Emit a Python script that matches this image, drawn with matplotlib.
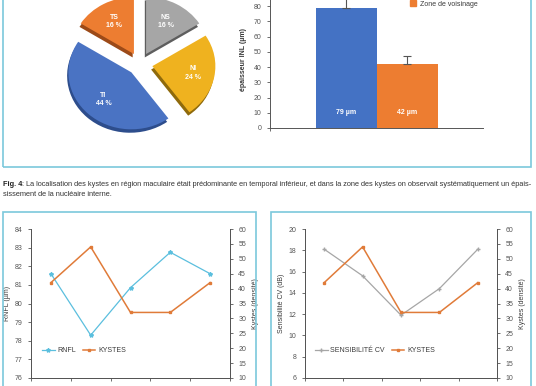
import numpy as np
import matplotlib.pyplot as plt
from matplotlib.patches import Rectangle, Patch

plt.rcParams['font.family'] = ['Liberation Sans', 'DejaVu Sans']
plt.rcParams['text.color'] = '#3a3a3a'
plt.rcParams['axes.labelcolor'] = '#3a3a3a'
plt.rcParams['xtick.color'] = '#555555'
plt.rcParams['ytick.color'] = '#555555'

W, H = 536, 386

# camembert : localisation des kystes
pie_labels = ['TS', 'TI', 'NI', 'NS']
pie_pct = [16, 44, 24, 16]
pie_colors = ['#ed7d31', '#4a73c3', '#efb21f', '#a6a6a6']
pie_dark = ['#9c4a18', '#2d4d8c', '#8f6a0c', '#5e5e5e']

# histogramme : epaisseur INL
bar_labels = ['Zone des kystes', 'Zone de voisinage']
bar_vals = [79, 42]
bar_err = [8, 5]
bar_colors = ['#4472c4', '#ed7d31']

# courbes par secteur
secteurs = [1, 2, 3, 4, 5]
rnfl = [81.6, 78.3, 80.85, 82.75, 81.6]
kystes = [42, 54, 32, 32, 42]
sens_cv = [18.1, 15.6, 11.9, 14.4, 18.1]

caption_bold = 'Fig. 4'
caption_1 = (': La localisation des kystes en région maculaire était prédominante en temporal inférieur, '
             'et dans la zone des kystes on observait systématiquement un épais-')
caption_2 = 'sissement de la nucléaire interne.'

frame_col = '#7cc8dc'
spine_col = '#555555'


def box(l, t, r, b):
    # pixels (origine en haut a gauche) -> coordonnees figure
    return [l / W, 1 - b / H, (r - l) / W, (b - t) / H]


def frame(fig, l, t, r, b):
    fig.patches.append(Rectangle((l / W, 1 - b / H), (r - l) / W, (b - t) / H,
                                 transform=fig.transFigure, fill=False,
                                 ec=frame_col, lw=1.2))


fig = plt.figure(figsize=(W / 100, H / 100), dpi=100)
fig.patch.set_facecolor('white')

frame(fig, 3, -10, 531, 167)
frame(fig, 3, 212, 256, 400)
frame(fig, 271, 212, 531, 400)

# ---- camembert
axp = fig.add_axes(box(45.5, -21.5, 234.5, 149.5))
explode = [0.2] * 4
axp.pie(pie_pct, colors=pie_dark, startangle=90, explode=explode, center=(-0.02, -0.06))
wedges, texts = axp.pie(pie_pct, colors=pie_colors, startangle=90, explode=explode,
                        labels=['%s\n%d %%' % (n, p) for n, p in zip(pie_labels, pie_pct)],
                        labeldistance=0.65,
                        textprops=dict(color='white', fontsize=5, fontweight='bold'))
for t in texts:
    t.set_ha('center')
    t.set_va('center')
    t.set_linespacing(1.3)
axp.set_aspect('auto')
axp.set_xlim(-1.5, 1.5)
axp.set_ylim(-1.5, 1.5)

# ---- histogramme
axb = fig.add_axes(box(270, -9.25, 483, 128))
xb = np.arange(len(bar_vals))
bars = axb.bar(xb, bar_vals, width=1.0, color=bar_colors,
               yerr=[[0] * len(bar_err), bar_err], capsize=3,
               error_kw=dict(ecolor='#555555', elinewidth=0.8, capthick=0.8))
for i, v in enumerate(bar_vals):
    axb.text(xb[i], 10, '%d µm' % v, color='white', fontsize=5, fontweight='bold',
             ha='center', va='center')
axb.set_xlim(-1.254, 2.238)
axb.set_ylim(0, 90)
axb.set_yticks(range(0, 90, 10))
axb.set_xticks([-1.254])
axb.set_xticklabels([])
axb.tick_params(labelsize=5, length=2.5, width=0.6)
axb.set_ylabel('épaisseur INL (µm)', fontsize=5, fontweight='bold', labelpad=5)
for s in ['top', 'right']:
    axb.spines[s].set_visible(False)
for s in ['left', 'bottom']:
    axb.spines[s].set_color(spine_col)
    axb.spines[s].set_linewidth(0.7)
# seule l'entree "voisinage" est visible dans le cadre
axb.legend([Patch(color=bar_colors[1])], [bar_labels[1]], loc='center left',
           bbox_to_anchor=(410 / W, 1 - 4 / H),
           bbox_transform=fig.transFigure, frameon=False, fontsize=5,
           handlelength=0.9, handleheight=0.9, handletextpad=0.5,
           borderpad=0, borderaxespad=0)


def courbes(rect, left_vals, left_col, left_mk, left_lab, left_ylab, left_lim, left_step,
            leg_x):
    ax1 = fig.add_axes(rect)
    l1, = ax1.plot(secteurs, left_vals, color=left_col, marker=left_mk, ms=3, lw=0.9,
                   label=left_lab)
    ax1.set_ylim(*left_lim)
    ax1.set_yticks(np.arange(left_lim[0], left_lim[1] + 0.1, left_step))
    ax1.set_xlim(0.5, 5.5)
    ax1.set_xticks(np.arange(0.5, 5.6, 1))
    ax1.set_xticklabels([])
    ax1.set_ylabel(left_ylab, fontsize=5, labelpad=3)
    ax2 = ax1.twinx()
    l2, = ax2.plot(secteurs, kystes, color='#e07b39', marker='s', ms=2, lw=1.1,
                   label='KYSTES')
    ax2.set_ylim(10, 60)
    ax2.set_yticks(range(10, 61, 5))
    ax2.set_ylabel('Kystes (densité)', fontsize=5, labelpad=4)
    for a in (ax1, ax2):
        a.tick_params(labelsize=5, length=2.5, width=0.6)
        a.spines['top'].set_visible(False)
        for s in ['left', 'right', 'bottom']:
            a.spines[s].set_color(spine_col)
            a.spines[s].set_linewidth(0.7)
    ax2.legend([l1, l2], [left_lab, 'KYSTES'], loc='center left',
               bbox_to_anchor=(leg_x / W, 1 - 351 / H), bbox_transform=fig.transFigure,
               ncol=2, frameon=False, fontsize=5, handlelength=1.8, handletextpad=0.4,
               columnspacing=1.0, borderpad=0, borderaxespad=0)
    return ax1, ax2


courbes(box(31, 229, 230, 378), rnfl, '#5bbfde', '*', 'RNFL', 'RNFL (µm)', (76, 84), 1, 42)
courbes(box(305, 229, 497, 378), sens_cv, '#a6a6a6', '+', 'SENSIBILITÉ CV',
        'Sensibilité CV (dB)', (6, 20), 2, 315)

# ---- legende de la figure
t1 = fig.text(3 / W, 1 - 185 / H, caption_bold, fontsize=5.3, fontweight='bold',
              color='#222222', va='center')
axp.annotate(caption_1, xy=(1, 0.5), xycoords=t1, va='center', ha='left',
             fontsize=5.3, color='#333333', annotation_clip=False)
fig.text(3 / W, 1 - 195 / H, caption_2, fontsize=5.3, color='#333333', va='center')

fig.savefig('out.png', dpi=100)
